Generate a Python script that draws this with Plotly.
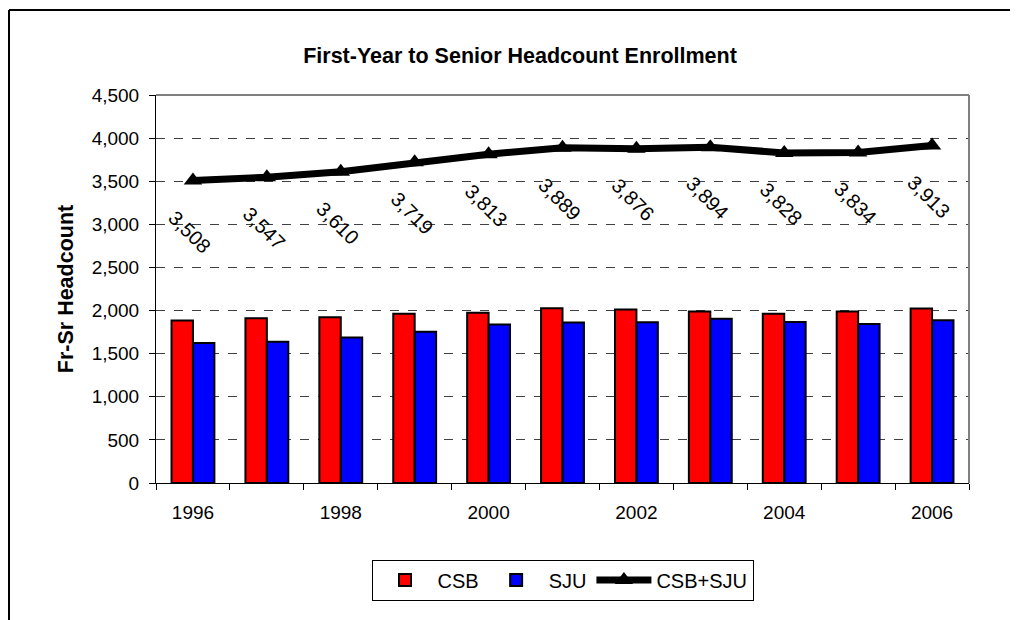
import plotly.graph_objects as go

years = [1996, 1997, 1998, 1999, 2000, 2001, 2002, 2003, 2004, 2005, 2006]
csb = [1885, 1910, 1922, 1964, 1974, 2028, 2013, 1990, 1962, 1989, 2024]
sju = [1623, 1637, 1688, 1755, 1839, 1861, 1863, 1904, 1866, 1845, 1889]
total = [3508, 3547, 3610, 3719, 3813, 3889, 3876, 3894, 3828, 3834, 3913]
xtick_labels = ["1996", "1998", "2000", "2002", "2004", "2006"]
ytick_vals = list(range(0, 4501, 500))

FONT = "Liberation Sans, Arial, sans-serif"

# figure is placed at (8, 8) in the page by the default body margin
W, H = 1010, 612
L, T = 148, 87
PW, PH = 813, 388

fig = go.Figure()
fig.add_trace(go.Bar(x=years, y=csb, name="CSB",
                     marker=dict(color="#FF0000", line=dict(color="#000000", width=2))))
fig.add_trace(go.Bar(x=years, y=sju, name="SJU",
                     marker=dict(color="#0000FF", line=dict(color="#000000", width=2))))
fig.add_trace(go.Scatter(x=years, y=total, name="CSB+SJU", mode="lines+markers",
                         line=dict(color="#000000", width=7),
                         marker=dict(symbol="triangle-up", size=16, color="#000000")))

for x, t in zip(years, total):
    fig.add_annotation(x=x, y=t, text=f"{t:,}", showarrow=False, textangle=45,
                       yshift=-51, xshift=-3,
                       font=dict(family=FONT, size=20, color="#000000"))

fig.update_layout(
    width=W, height=H,
    margin=dict(l=L, r=W - L - PW, t=T, b=H - T - PH),
    paper_bgcolor="white", plot_bgcolor="white",
    barmode="group", bargap=0.42, bargroupgap=0.0,
    font=dict(family=FONT, size=19, color="#000000"),
    title=dict(text="<b>First-Year to Senior Headcount Enrollment</b>",
               x=512 / W, xref="container", xanchor="center", y=1 - 47 / H, yref="container",
               yanchor="middle", font=dict(family=FONT, size=21.5)),
    showlegend=True,
    legend=dict(orientation="h", x=0.5, xanchor="center", y=-0.25, yanchor="middle",
                bordercolor="#000000", borderwidth=1, bgcolor="white",
                font=dict(family=FONT, size=20), itemwidth=55,
                tracegroupgap=0),
    xaxis=dict(range=[1995.5, 2006.5], tickmode="array",
               tickvals=[int(v) for v in xtick_labels], ticktext=xtick_labels,
               showgrid=False, ticks="", showline=True, linecolor="#000000", linewidth=1,
               minor=dict(tick0=1995.5, dtick=1, ticks="outside", ticklen=6,
                          tickcolor="#000000", showgrid=False),
               tickfont=dict(family=FONT, size=19), mirror=False, zeroline=False,
               ticklabelstandoff=12),
    yaxis=dict(range=[0, 4500], tickmode="array", tickvals=ytick_vals,
               tickformat=",d", showgrid=True, gridcolor="#404040", griddash="dash",
               gridwidth=1, ticks="outside", ticklen=6, tickcolor="#000000",
               showline=True, linecolor="#000000", linewidth=1, zeroline=False,
               tickfont=dict(family=FONT, size=19), ticklabelstandoff=6,
               title=dict(text="<b>Fr-Sr Headcount</b>", font=dict(family=FONT, size=21.5),
                          standoff=12)),
    shapes=[
        # grey plot-area border (top and right)
        dict(type="line", xref="paper", yref="paper", x0=0, x1=1, y0=1, y1=1,
             line=dict(color="#808080", width=2)),
        dict(type="line", xref="paper", yref="paper", x0=1, x1=1, y0=0, y1=1,
             line=dict(color="#808080", width=2)),
        # outer chart border (left and top)
        dict(type="line", xref="paper", yref="paper",
             x0=(1 - L) / PW, x1=(1 - L) / PW, y0=(T + PH - 2) / PH, y1=(T + PH - H - 10) / PH,
             line=dict(color="#000000", width=2)),
        dict(type="line", xref="paper", yref="paper",
             x0=(1 - L) / PW, x1=(W + 10 - L) / PW, y0=(T + PH - 2) / PH, y1=(T + PH - 2) / PH,
             line=dict(color="#000000", width=2)),
    ],
)

fig.write_html("out.html")
